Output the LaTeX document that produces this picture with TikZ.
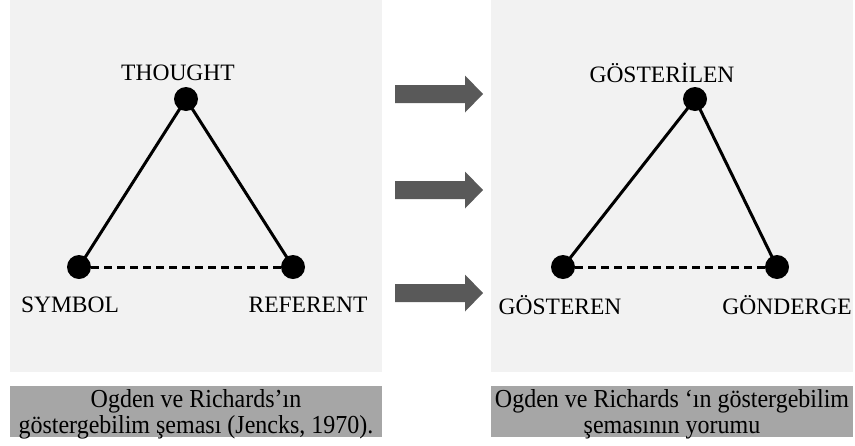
\documentclass[tikz,border=0pt]{standalone}
\usepackage{fontspec}
\setmainfont{Liberation Serif}
\definecolor{panelgray}{HTML}{F2F2F2}
\definecolor{capgray}{HTML}{A6A6A6}
\definecolor{arrgray}{HTML}{595959}
\begin{document}
\begin{tikzpicture}[x=1pt,y=-1pt,
  dot/.style={circle,fill=black,inner sep=0pt,minimum size=24pt},
  lbl/.style={font=\fontsize{23.5}{26}\selectfont,inner sep=0pt},
  captext/.style={font=\fontsize{24}{27}\selectfont,inner sep=0pt,anchor=base,yscale=1.08},
  triline/.style={line width=3pt},
  dashline/.style={line width=3pt,dash pattern=on 8pt off 5pt},
  bigarrow/.style={fill=arrgray}
]
\useasboundingbox (0,0) rectangle (855,445);
\fill[white] (0,0) rectangle (855,445);
% panels
\fill[panelgray] (10,0) rectangle (382,372);
\fill[panelgray] (491,0) rectangle (853,372);
% captions
\fill[capgray] (10,386) rectangle (382,437);
\fill[capgray] (491,386) rectangle (853,437);
% left triangle
\node[dot] (t) at (186,99) {};
\node[dot] (s) at (79,267) {};
\node[dot] (r) at (293,267) {};
\draw[triline] (s.center) -- (t.center) -- (r.center);
\draw[dashline] (s) -- (r);
\node[lbl] (tl) at (178,73) {THOUGHT};
\node[lbl] (sl) at (70,305) {SYMBOL};
\node[lbl] (rl) at (308,305) {REFERENT};
% right triangle
\node[dot] (t2) at (695,99) {};
\node[dot] (s2) at (563,267) {};
\node[dot] (r2) at (777,267) {};
\draw[triline] (s2.center) -- (t2.center) -- (r2.center);
\draw[dashline] (s2) -- (r2);
\node[lbl] (tl2) at (662,73) {GÖSTERİLEN};
\node[lbl] (sl2) at (560,305) {GÖSTEREN};
\node[lbl] (rl2) at (787,305) {GÖNDERGE};
% arrows
\foreach \yy in {94,190,293}{
  \fill[bigarrow] (395,\yy-9) -- (465,\yy-9) -- (465,\yy-18.5) -- (483,\yy)
    -- (465,\yy+18.5) -- (465,\yy+9) -- (395,\yy+9) -- cycle;
}
% captions text
\node[captext] (c1a) at (196,407) {Ogden ve Richards’ın};
\node[captext] (c1b) at (196,433) {göstergebilim şeması (Jencks, 1970).};
\node[captext] (c2a) at (672,407) {Ogden ve Richards ‘ın göstergebilim};
\node[captext] (c2b) at (672,433) {şemasının yorumu};
\end{tikzpicture}
\end{document}
